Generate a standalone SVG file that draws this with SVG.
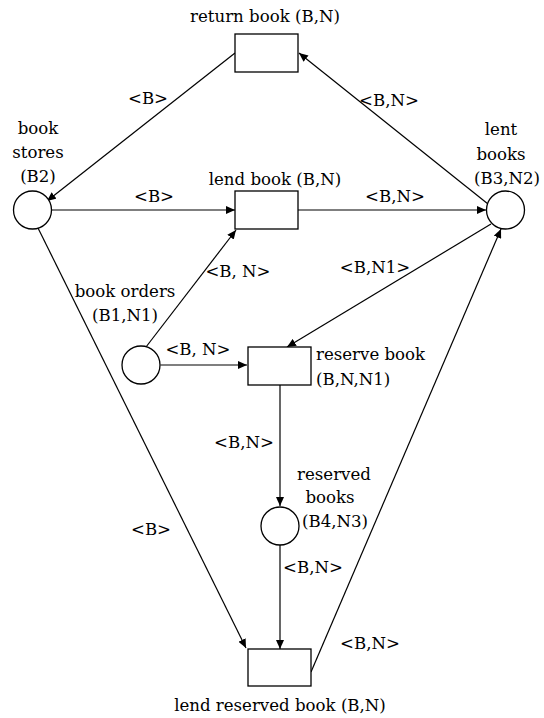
<svg xmlns="http://www.w3.org/2000/svg" width="544" height="718" viewBox="0 0 544 718">
<defs>
<marker id="arr" markerUnits="userSpaceOnUse" markerWidth="10" markerHeight="8" refX="9" refY="4" orient="auto">
<path d="M0,0 L9,4 L0,8 z" fill="#000"/>
</marker>
<style>
text{font-family:'DejaVu Serif','Liberation Serif',serif;font-size:16.6px;fill:#000}
.m{text-anchor:middle}
.node{fill:#fff;stroke:#000;stroke-width:1.3}
.edge{fill:none;stroke:#000;stroke-width:1.2;marker-end:url(#arr)}
</style>
</defs>
<rect width="544" height="718" fill="#fff"/>
<g id="connectors">
<line class="edge" x1="235" y1="53" x2="47" y2="201"/>
<line class="edge" x1="488" y1="204" x2="299" y2="53"/>
<line class="edge" x1="51.5" y1="210" x2="235" y2="210"/>
<line class="edge" x1="298" y1="210" x2="486" y2="210"/>
<line class="edge" x1="38" y1="228" x2="246" y2="648"/>
<line class="edge" x1="146" y1="347" x2="236" y2="230"/>
<line class="edge" x1="160.5" y1="365" x2="247" y2="365"/>
<line class="edge" x1="491" y1="224" x2="287" y2="347"/>
<line class="edge" x1="280" y1="385" x2="280" y2="506"/>
<line class="edge" x1="280" y1="545" x2="280" y2="649"/>
<line class="edge" x1="311" y1="672" x2="501" y2="229"/>
<text class="m" x="148" y="104">&lt;B&gt;</text>
<text class="m" x="389" y="106">&lt;B,N&gt;</text>
<text class="m" x="154" y="202">&lt;B&gt;</text>
<text class="m" x="395" y="202">&lt;B,N&gt;</text>
<text class="m" x="238" y="277">&lt;B, N&gt;</text>
<text class="m" x="375" y="273">&lt;B,N1&gt;</text>
<text class="m" x="198" y="355">&lt;B, N&gt;</text>
<text class="m" x="244" y="448">&lt;B,N&gt;</text>
<text class="m" x="151" y="535">&lt;B&gt;</text>
<text class="m" x="313" y="573">&lt;B,N&gt;</text>
<text class="m" x="370" y="649">&lt;B,N&gt;</text>
</g>
<g id="return_book">
<rect class="node" x="235" y="34" width="63" height="38"/>
<text class="m" x="265" y="22">return book (B,N)</text>
</g>
<g id="lend_book">
<rect class="node" x="235" y="191" width="63" height="38"/>
<text class="m" x="275" y="185">lend book (B,N)</text>
</g>
<g id="reserve_book">
<rect class="node" x="248" y="347" width="63" height="38"/>
<text x="316" y="360">reserve book</text>
<text x="316" y="385">(B,N,N1)</text>
</g>
<g id="lend_reserved_book">
<rect class="node" x="248" y="649" width="63" height="37"/>
<text class="m" x="280" y="711">lend reserved book (B,N)</text>
</g>
<g id="book_stores">
<circle class="node" cx="32.5" cy="210" r="19"/>
<text class="m" x="38" y="134">book</text>
<text class="m" x="38" y="158">stores</text>
<text class="m" x="38" y="182">(B2)</text>
</g>
<g id="lent_books">
<circle class="node" cx="505.5" cy="210" r="19"/>
<text class="m" x="501" y="135">lent</text>
<text class="m" x="501" y="160">books</text>
<text class="m" x="507" y="184">(B3,N2)</text>
</g>
<g id="book_orders">
<circle class="node" cx="141" cy="365" r="19"/>
<text class="m" x="125" y="297">book orders</text>
<text class="m" x="125" y="321">(B1,N1)</text>
</g>
<g id="reserved_books">
<circle class="node" cx="280" cy="526" r="19"/>
<text class="m" x="334" y="480">reserved</text>
<text class="m" x="330" y="503">books</text>
<text class="m" x="335" y="527">(B4,N3)</text>
</g>
</svg>
